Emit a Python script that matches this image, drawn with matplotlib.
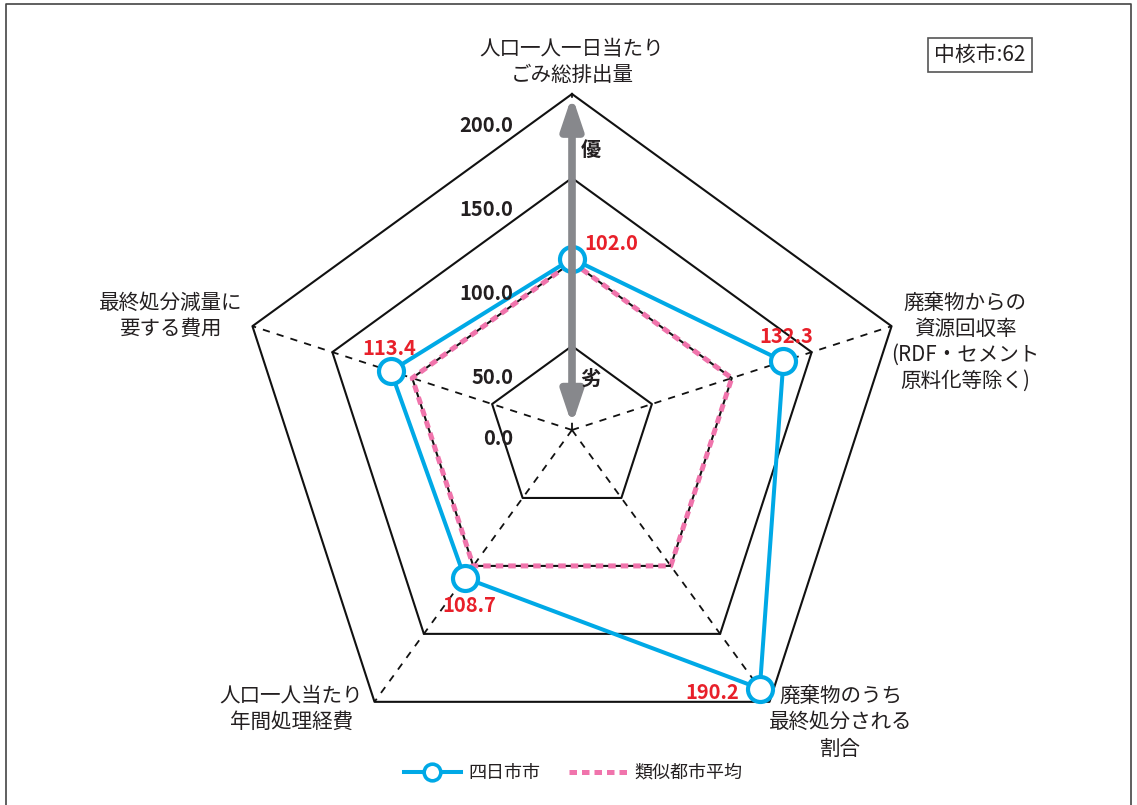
import numpy as np
import matplotlib
matplotlib.use("Agg")
import matplotlib.pyplot as plt
from matplotlib.lines import Line2D

plt.rcParams['font.family'] = ['Noto Sans CJK JP', 'DejaVu Sans']

# ---- data ----
categories = ["人口一人一日当たり\nごみ総排出量",
              "廃棄物からの\n資源回収率\n(RDF・セメント\n原料化等除く)",
              "廃棄物のうち\n最終処分される\n割合",
              "人口一人当たり\n年間処理経費",
              "最終処分減量に\n要する費用"]
city_values = [102.0, 132.3, 190.2, 108.7, 113.4]
avg_values = [100.0, 100.0, 100.0, 100.0, 100.0]
ring_values = [50.0, 100.0, 150.0, 200.0]
tick_labels = [0.0, 50.0, 100.0, 150.0, 200.0]
series_names = ["四日市市", "類似都市平均"]
note_text = "中核市:62"

W, H = 1137, 805
fig = plt.figure(figsize=(W / 100, H / 100), dpi=100)
scale = 1.68  # px per unit
cx, cy = 572, 430
ax = fig.add_axes([0, 0, 1, 1])
ax.set_xlim(-cx / scale, (W - cx) / scale)
ax.set_ylim(-(H - cy) / scale, cy / scale)
ax.axis('off')

n = len(categories)
angles = np.deg2rad(90 - 72 * np.arange(n))


def xy(vals):
    v = np.asarray(vals, dtype=float)
    return v * np.cos(angles), v * np.sin(angles)


blue = '#00A9E6'
pink = '#F074AC'
red = '#E8202A'
txt = '#231F20'

# rings
for r in ring_values:
    x, y = xy([r] * n)
    ax.plot(np.append(x, x[0]), np.append(y, y[0]), color='#111111', lw=1.5, zorder=2)
# spokes
rmax = max(ring_values)
for a in angles:
    ax.plot([0, rmax * np.cos(a)], [0, rmax * np.sin(a)], color='#111111', lw=1.3,
            ls=(0, (4, 4)), zorder=2)

# average series
x, y = xy(avg_values)
ax.plot(np.append(x, x[0]), np.append(y, y[0]), color=pink, lw=3.6,
        ls=(0, (1.5, 1.0)), dash_capstyle='butt', zorder=3)
# city series
x, y = xy(city_values)
ax.plot(np.append(x, x[0]), np.append(y, y[0]), color=blue, lw=2.9, zorder=4)
ax.plot(x, y, ls='none', marker='o', ms=18, mfc='white', mec=blue, mew=3.0, zorder=5)

# gray arrow along top axis
ax.annotate('', xy=(0, rmax - 1), xytext=(0, 3),
            arrowprops=dict(arrowstyle='<|-|>,head_length=0.95,head_width=0.32',
                            color='#87888C', lw=5.5, mutation_scale=20,
                            shrinkA=0, shrinkB=0), zorder=6)
ax.text(11, 167, "優", fontsize=14.5, fontweight='bold', color=txt, ha='center', va='center', zorder=7)
ax.text(11, 31, "劣", fontsize=14.5, fontweight='bold', color=txt, ha='center', va='center', zorder=7)

# tick labels
for t in tick_labels:
    ty = max(t - 18.5, -4.8)
    ax.text(-35, ty, f"{t:.1f}", fontsize=14.5, fontweight='bold', color=txt,
            ha='right', va='center', zorder=7)

# category labels
cat_pos = [(0, 219), (234, 52.5), (160, -174), (-167, -166), (-239, 68)]
for lab, (px, py) in zip(categories, cat_pos):
    ax.text(px, py, lab, fontsize=14.8, color=txt, ha='center', va='center',
            linespacing=1.25, zorder=7)

# value labels
val_offsets = [((9, 11), 'left'), ((2, 18), 'center'), ((-15, -3), 'right'),
               ((3, -20), 'center'), ((-1, 16), 'center')]
for v, a, ((dx, dy), ha) in zip(city_values, angles, val_offsets):
    vx, vy = v * np.cos(a), v * np.sin(a)
    ax.annotate(f"{v:.1f}", (vx, vy), xytext=(dx, dy), textcoords='offset points',
                fontsize=14.5, fontweight='bold', color=red, ha=ha, va='center', zorder=8)

# note box
fig.text(980 / W, 1 - 55 / H, note_text, fontsize=15, color=txt, ha='center', va='center',
         bbox=dict(boxstyle='square,pad=0.3', fc='white', ec='#555555', lw=1.2))

# legend
handles = [Line2D([], [], color=blue, lw=2.9, marker='o', ms=12, mfc='white', mec=blue, mew=2.6),
           Line2D([], [], color=pink, lw=3.6, ls=(0, (1.5, 1.0)), dash_capstyle='butt')]
fig.legend(handles, series_names, loc='center', bbox_to_anchor=(0.504, 1 - 773 / H), ncol=2,
           frameon=False, fontsize=13, handlelength=3.2, columnspacing=1.6, handletextpad=0.4,
           labelcolor=txt)

# frame (top, left, right)
fig.add_artist(Line2D([6 / W, 6 / W, 1131 / W, 1131 / W], [0, 1 - 4 / H, 1 - 4 / H, 0],
                      transform=fig.transFigure, color='#444444', lw=1.2))

fig.savefig('out.png', dpi=100)
